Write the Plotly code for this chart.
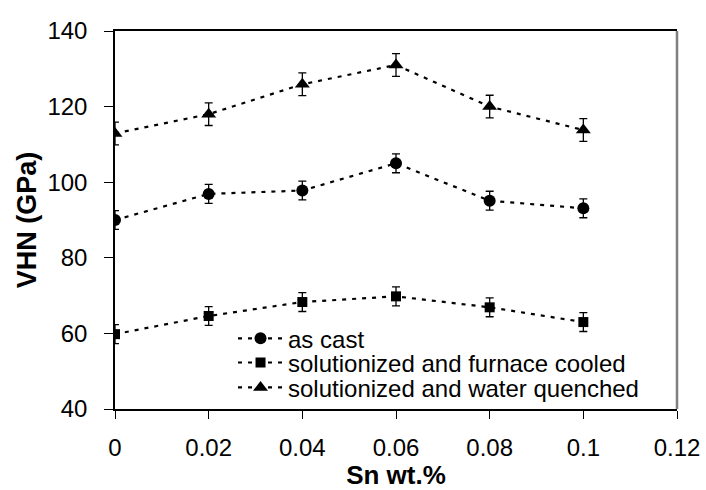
import plotly.graph_objects as go

sn = [0, 0.02, 0.04, 0.06, 0.08, 0.1]
as_cast = [90, 96.9, 97.8, 105, 95.1, 93.1]
as_cast_err = [2.5, 2.5, 2.5, 2.5, 2.5, 2.5]
furnace = [59.8, 64.6, 68.3, 69.8, 66.9, 63.0]
furnace_err = [2.5, 2.5, 2.5, 2.5, 2.5, 2.5]
quench = [112.9, 118.0, 125.9, 131.0, 120.0, 113.8]
quench_err = [3, 3, 3, 3, 3, 3]
names = ["as cast", "solutionized and furnace cooled", "solutionized and water quenched"]
x_ticks = [0, 0.02, 0.04, 0.06, 0.08, 0.1, 0.12]
x_ticklabels = ["0", "0.02", "0.04", "0.06", "0.08", "0.1", "0.12"]
y_ticks = [40, 60, 80, 100, 120, 140]

FONT = "Liberation Sans, Arial, sans-serif"
fig = go.Figure()

series = [
    (as_cast, as_cast_err, names[0], "circle", 12, "legend"),
    (furnace, furnace_err, names[1], "square", 10, "legend2"),
    (quench, quench_err, names[2], "triangle-up", 13, "legend3"),
]
for ys, err, nm, sym, sz, lg in series:
    fig.add_trace(go.Scatter(
        x=sn, y=ys, name=nm, mode="lines+markers",
        line=dict(color="black", width=2.2, dash="4px,6px"),
        marker=dict(symbol=sym, size=sz, color="black"),
        error_y=dict(type="data", array=err, visible=True, color="black",
                     thickness=1.3, width=4),
        legend=lg,
    ))

legend_common = dict(
    xanchor="left", yanchor="middle", bgcolor="rgba(0,0,0,0)",
    font=dict(family=FONT, size=24, color="black"), itemwidth=45,
    borderwidth=0, itemclick=False,
)
fig.update_layout(
    legend=dict(x=0.21, y=0.186, **legend_common),
    legend2=dict(x=0.21, y=0.122, **legend_common),
    legend3=dict(x=0.21, y=0.056, **legend_common),
)

fig.update_layout(
    width=706, height=490,
    margin=dict(l=115, r=29, t=31, b=81, autoexpand=False),
    paper_bgcolor="white", plot_bgcolor="white",
    font=dict(family=FONT, color="black"),
    xaxis=dict(
        range=[0, 0.12], tickvals=x_ticks, ticktext=x_ticklabels,
        showgrid=False, zeroline=False, showline=True, linecolor="black",
        linewidth=1.5, mirror=True, ticks="outside", ticklen=8, tickwidth=1.2,
        tickcolor="black", tickfont=dict(family=FONT, size=24),
        ticklabelstandoff=8,
        title=dict(text="<b>Sn wt.%</b>", font=dict(family=FONT, size=26), standoff=18),
    ),
    yaxis=dict(
        range=[40, 140], tickvals=y_ticks,
        showgrid=False, zeroline=False, showline=True, linecolor="black",
        linewidth=1.5, ticks="outside", ticklen=9, tickwidth=1.2,
        tickcolor="black", tickfont=dict(family=FONT, size=24),
        ticklabelstandoff=12,
        title=dict(text="<b>VHN (GPa)</b>", font=dict(family=FONT, size=27), standoff=3),
    ),
    showlegend=True,
)
# right frame line (grey) as in the reference
fig.add_shape(type="line", xref="paper", yref="paper", x0=1, x1=1, y0=0, y1=1,
              line=dict(color="#808080", width=2.5))

fig.write_html("out.html")
